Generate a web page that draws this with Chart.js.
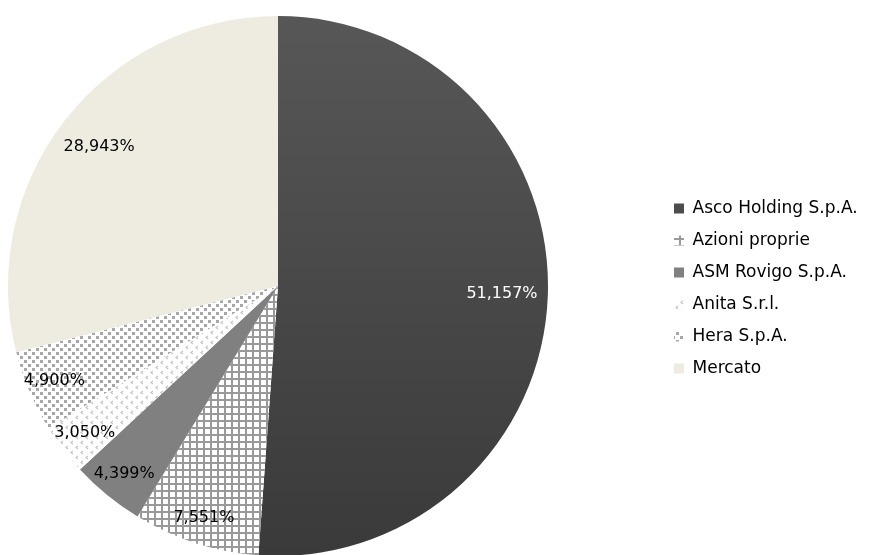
<!DOCTYPE html>
<html>
<head>
<meta charset="utf-8">
<script src="https://cdn.jsdelivr.net/npm/chart.js@4"></script>
<style>
  html, body { margin: 0; padding: 0; background: #fff; }
  #wrap { width: 869px; height: 555px; }
</style>
</head>
<body>
<div id="wrap"><canvas id="pie" width="869" height="555"></canvas></div>
<script>
const shareholders = ['Asco Holding S.p.A.', 'Azioni proprie', 'ASM Rovigo S.p.A.', 'Anita S.r.l.', 'Hera S.p.A.', 'Mercato'];
const shares = [51.157, 7.551, 4.399, 3.050, 4.900, 28.943];

function formatShare(v){
    return v.toFixed(3).replace('.', ',') + '%';
}

// small repeating fills, like the office-style hatches
function makePattern(size, draw){
    const c = document.createElement('canvas');
    c.width = size; c.height = size;
    const g = c.getContext('2d');
    g.fillStyle = '#fff';
    g.fillRect(0, 0, size, size);
    draw(g);
    return g.createPattern(c, 'repeat');
}

const gridFill = makePattern(7, g => {
    g.fillStyle = '#999999';
    g.fillRect(0, 0, 7, 2);
    g.fillRect(0, 0, 2, 7);
});
const chevronFill = makePattern(10, g => {
    g.strokeStyle = '#c4c4c4';
    g.lineWidth = 1.2;
    g.beginPath();
    g.moveTo(3, 1); g.lineTo(1, 2.5); g.lineTo(3, 4);
    g.moveTo(8, 6); g.lineTo(6, 7.5); g.lineTo(8, 9);
    g.stroke();
});
const dotFill = makePattern(8, g => {
    g.fillStyle = '#a8a8a8';
    g.fillRect(0, 0, 3, 3);
    g.fillRect(4, 4, 3, 3);
});

const sliceFills = [null, gridFill, '#808080', chevronFill, dotFill, '#eeebe0'];
const labelColors = ['#ffffff', '#000000', '#000000', '#000000', '#000000', '#000000'];

function fillFor(ctx){
    if(ctx.dataIndex !== 0) return sliceFills[ctx.dataIndex];
    // the big slice has a soft top-to-bottom shade
    const area = ctx.chart.chartArea;
    if(!area) return '#4a4a4a';
    const grad = ctx.chart.ctx.createLinearGradient(0, area.top, 0, area.bottom);
    grad.addColorStop(0, '#575757');
    grad.addColorStop(1, '#3a3a3a');
    return grad;
}

// pie sits left, legend pushed to the right like the original layout
const placeBoxes = {
    id: 'placeBoxes',
    afterLayout(chart){
        const a = chart.chartArea;
        a.left = 8; a.right = 548; a.top = 16; a.bottom = 556;
        a.width = a.right - a.left; a.height = a.bottom - a.top;
        const lg = chart.legend;
        const w = lg.right - lg.left;
        lg.left = 659; lg.right = 659 + w;
        lg.top = 21; lg.bottom = 556;
    }
};

const sliceLabels = {
    id: 'sliceLabels',
    afterDatasetsDraw(chart){
        const ctx = chart.ctx;
        const meta = chart.getDatasetMeta(0);
        ctx.save();
        ctx.font = '16px "DejaVu Sans"';
        ctx.textAlign = 'center';
        ctx.textBaseline = 'middle';
        meta.data.forEach((arc, i) => {
            const text = formatShare(shares[i]);
            const mid = (arc.startAngle + arc.endAngle) / 2;
            const hw = ctx.measureText(text).width / 2, hh = 8.5;
            const dx = Math.cos(mid), dy = Math.sin(mid);
            let d = arc.outerRadius * 0.9;
            if(arc.endAngle - arc.startAngle > Math.PI / 3){
                // wide slices: keep the label box just inside the rim
                d = arc.outerRadius - 10 - (Math.abs(hw * dx) + Math.abs(hh * dy));
            }
            ctx.fillStyle = labelColors[i];
            ctx.fillText(text, arc.x + dx * d, arc.y + dy * d);
        });
        ctx.restore();
    }
};

new Chart(document.getElementById('pie'), {
    type: 'pie',
    data: {
        labels: shareholders,
        datasets: [{
            data: shares,
            backgroundColor: fillFor,
            borderWidth: 0
        }]
    },
    options: {
        responsive: false,
        animation: false,
        layout: { padding: { top: 15, bottom: 4 } },
        plugins: {
            tooltip: { enabled: false },
            legend: {
                position: 'right',
                labels: {
                    boxWidth: 10,
                    boxHeight: 10,
                    padding: 15,
                    color: '#000',
                    font: { family: '"DejaVu Sans"', size: 17 }
                }
            }
        }
    },
    plugins: [placeBoxes, sliceLabels]
});
</script>
</body>
</html>
